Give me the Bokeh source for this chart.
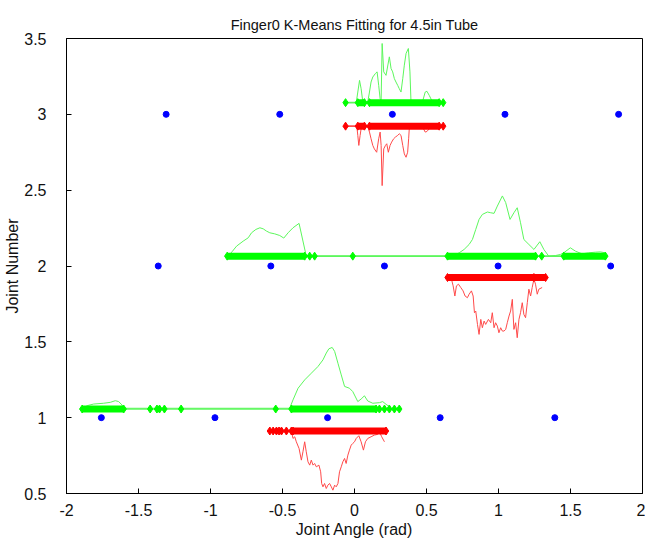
from bokeh.plotting import figure
from bokeh.models import Range1d, FixedTicker
from bokeh.embed import file_html
from bokeh.resources import INLINE

# ---------------- data ----------------
x_ticks = [-2, -1.5, -1, -0.5, 0, 0.5, 1, 1.5, 2]
x_tick_labels = ["-2", "-1.5", "-1", "-0.5", "0", "0.5", "1", "1.5", "2"]
y_ticks = [0.5, 1, 1.5, 2, 2.5, 3, 3.5]
y_tick_labels = ["0.5", "1", "1.5", "2", "2.5", "3", "3.5"]

title_text = "Finger0 K-Means Fitting for 4.5in Tube"
x_label = "Joint Angle (rad)"
y_label = "Joint Number"

# K-means centres per joint
centers_j1 = [-1.758, -0.969, -0.187, 0.595, 1.391]
centers_j2 = [-1.363, -0.581, 0.208, 0.997, 1.779]
centers_j3 = [-1.308, -0.519, 0.263, 1.045, 1.834]

# levels of the data strips
green_level = {1: 1.057, 2: 2.065, 3: 3.077}
red_level = {1: 0.912, 2: 1.924, 3: 2.922}

# dense runs of samples (start, end) and isolated samples
g1_run_start = [-1.891, -0.438]
g1_run_end = [-1.603, 0.150]
g1_points = [-1.419, -1.372, -1.354, -1.320, -1.204, -0.547, 0.173, 0.208, 0.242, 0.277, 0.311]
r1_run_start = [-0.427]
r1_run_end = [0.219]
r1_points = [-0.588, -0.565, -0.542, -0.524, -0.507, -0.473, -0.438]

g2_run_start = [-0.884, 0.646, 1.453]
g2_run_end = [-0.346, 1.257, 1.742]
g2_points = [-0.311, -0.277, -0.012, 1.300]
r2_run_start = [0.646]
r2_run_end = [1.327]
r2_points = [1.246]

g3_run_start = [0.023, 0.104]
g3_run_end = [0.069, 0.588]
g3_points = [-0.062, 0.616]
r3_run_start = [0.023, 0.104]
r3_run_end = [0.069, 0.588]
r3_points = [-0.062, 0.616]

# histogram outlines
g1_hist_x = [-1.891, -1.857, -1.811, -1.742, -1.696, -1.661, -1.638, -1.615, -1.603,
             -0.450, -0.427, -0.392, -0.346, -0.300, -0.254, -0.219, -0.196, -0.178, -0.155,
             -0.138, -0.115, -0.092, -0.069, -0.035, -0.012, 0.023, 0.046, 0.069, 0.092,
             0.127, 0.173, 0.196, 0.219, 0.242]
g1_hist_y = [1.057, 1.079, 1.090, 1.095, 1.101, 1.112, 1.106, 1.084, 1.062,
             1.062, 1.117, 1.194, 1.249, 1.293, 1.337, 1.381, 1.426, 1.454, 1.463,
             1.437, 1.359, 1.282, 1.206, 1.194, 1.172, 1.106, 1.123, 1.144, 1.110,
             1.095, 1.099, 1.106, 1.088, 1.073]
r1_hist_x = [-0.438, -0.427, -0.415, -0.404, -0.385, -0.369, -0.358, -0.346, -0.335, -0.323,
             -0.311, -0.300, -0.288, -0.277, -0.265, -0.247, -0.235, -0.228, -0.219, -0.208,
             -0.196, -0.185, -0.173, -0.161, -0.150, -0.138, -0.127, -0.115, -0.104, -0.092,
             -0.081, -0.069, -0.058, -0.046, -0.035, -0.023, -0.012, 0.000, 0.012, 0.030,
             0.046, 0.062, 0.076, 0.092, 0.115, 0.138, 0.161, 0.173, 0.189, 0.208]
r1_hist_y = [0.912, 0.863, 0.874, 0.841, 0.797, 0.720, 0.775, 0.841, 0.775, 0.709,
             0.687, 0.720, 0.687, 0.698, 0.676, 0.687, 0.643, 0.566, 0.544, 0.566,
             0.533, 0.555, 0.566, 0.544, 0.522, 0.555, 0.544, 0.566, 0.643, 0.676,
             0.709, 0.731, 0.698, 0.753, 0.786, 0.819, 0.830, 0.841, 0.863, 0.881,
             0.841, 0.786, 0.841, 0.863, 0.874, 0.885, 0.890, 0.907, 0.874, 0.841]

g2_hist_x = [-0.877, -0.847, -0.819, -0.773, -0.738, -0.715, -0.685, -0.657, -0.634, -0.611,
             -0.588, -0.554, -0.519, -0.491, -0.461, -0.427, -0.385, -0.339, -0.330,
             0.680, 0.727, 0.761, 0.796, 0.819, 0.842, 0.865, 0.888, 0.923, 0.946,
             0.969, 0.992, 1.027, 1.050, 1.080, 1.107, 1.130, 1.153, 1.176, 1.211,
             1.246, 1.287, 1.315, 1.349, 1.396, 1.430, 1.453, 1.499, 1.534, 1.580,
             1.626, 1.672, 1.707, 1.742]
g2_hist_y = [2.065, 2.098, 2.131, 2.164, 2.186, 2.219, 2.241, 2.252, 2.245, 2.230,
             2.219, 2.212, 2.201, 2.184, 2.219, 2.252, 2.281, 2.083, 2.065,
             2.065, 2.087, 2.109, 2.142, 2.175, 2.241, 2.307, 2.340, 2.356, 2.351,
             2.347, 2.395, 2.462, 2.418, 2.307, 2.351, 2.384, 2.285, 2.175, 2.142,
             2.109, 2.160, 2.109, 2.065, 2.069, 2.076, 2.087, 2.120, 2.098, 2.080,
             2.087, 2.091, 2.093, 2.087]
r2_hist_x = [0.676, 0.685, 0.697, 0.708, 0.722, 0.738, 0.754, 0.768, 0.784, 0.796,
             0.812, 0.824, 0.833, 0.842, 0.854, 0.865, 0.877, 0.888, 0.900, 0.911,
             0.930, 0.946, 0.957, 0.969, 0.980, 0.992, 1.003, 1.015, 1.027, 1.038,
             1.050, 1.061, 1.073, 1.084, 1.096, 1.107, 1.119, 1.130, 1.142, 1.153,
             1.165, 1.176, 1.188, 1.200, 1.211, 1.223, 1.234, 1.246, 1.257, 1.269,
             1.280, 1.303]
r2_hist_y = [1.903, 1.869, 1.802, 1.869, 1.880, 1.858, 1.836, 1.802, 1.791, 1.814,
             1.836, 1.802, 1.692, 1.703, 1.615, 1.549, 1.648, 1.593, 1.637, 1.615,
             1.648, 1.626, 1.692, 1.593, 1.626, 1.604, 1.560, 1.593, 1.571, 1.571,
             1.582, 1.626, 1.670, 1.703, 1.780, 1.582, 1.626, 1.527, 1.648, 1.692,
             1.758, 1.681, 1.659, 1.758, 1.847, 1.802, 1.858, 1.913, 1.880, 1.814,
             1.847, 1.858]

g3_hist_x = [0.012, 0.023, 0.035, 0.046, 0.058, 0.092, 0.104, 0.115, 0.127, 0.145,
             0.157, 0.168, 0.178, 0.185, 0.192, 0.203, 0.219, 0.242, 0.254, 0.265,
             0.277, 0.288, 0.300, 0.311, 0.323, 0.335, 0.346, 0.358, 0.374, 0.385,
             0.392, 0.404, 0.473, 0.491, 0.503, 0.519, 0.542, 0.588]
g3_hist_y = [3.077, 3.147, 3.224, 3.169, 3.081, 3.081, 3.147, 3.213, 3.246, 3.269,
             3.280, 3.191, 3.103, 3.092, 3.467, 3.280, 3.257, 3.379, 3.302, 3.280,
             3.235, 3.213, 3.191, 3.169, 3.147, 3.235, 3.324, 3.401, 3.434, 3.280,
             3.092, 3.081, 3.086, 3.147, 3.152, 3.125, 3.081, 3.077]
r3_hist_x = [0.016, 0.023, 0.030, 0.039, 0.046, 0.058, 0.092, 0.104, 0.115, 0.127,
             0.138, 0.154, 0.168, 0.178, 0.185, 0.192, 0.203, 0.215, 0.224, 0.235,
             0.247, 0.258, 0.272, 0.284, 0.300, 0.311, 0.323, 0.335, 0.346, 0.358,
             0.369, 0.376, 0.381, 0.392, 0.473, 0.491, 0.503, 0.519, 0.542]
r3_hist_y = [2.922, 2.861, 2.795, 2.861, 2.905, 2.916, 2.922, 2.883, 2.839, 2.795,
             2.772, 2.750, 2.839, 2.883, 2.795, 2.530, 2.772, 2.795, 2.806, 2.750,
             2.795, 2.817, 2.839, 2.850, 2.861, 2.872, 2.861, 2.795, 2.739, 2.717,
             2.750, 2.839, 2.916, 2.922, 2.916, 2.883, 2.887, 2.905, 2.916]

# ---------------- styles ----------------
FONT = "Liberation Sans"
GREEN = "#00ff00"
GREEN_THIN = "#5cf75c"
RED = "#ff0000"
RED_THIN = "#ff4a4a"
BLUE = "#0000ff"

p = figure(width=645, height=540, output_backend="svg", toolbar_location=None,
           x_range=Range1d(-2, 2), y_range=Range1d(0.5, 3.5),
           min_border_left=66, min_border_right=3, min_border_top=38, min_border_bottom=46)

p.title.text = title_text
p.title.align = "center"
p.title.text_font = FONT
p.title.text_font_size = "14.5px"
p.title.text_font_style = "normal"
p.title.text_color = "#111111"
p.title.standoff = 11

p.xgrid.visible = False
p.ygrid.visible = False
p.outline_line_color = "black"
p.outline_line_width = 1
p.outline_line_alpha = 1

for ax, ticks, labels in ((p.xaxis[0], x_ticks, x_tick_labels), (p.yaxis[0], y_ticks, y_tick_labels)):
    ax.ticker = FixedTicker(ticks=ticks)
    ax.major_label_overrides = {t: l for t, l in zip(ticks, labels)}
    ax.major_tick_in = 5
    ax.major_tick_out = 0
    ax.minor_tick_line_color = None
    ax.major_label_text_font = FONT
    ax.major_label_text_font_size = "16px"
    ax.major_label_text_color = "#111111"
    ax.axis_label_text_font = FONT
    ax.axis_label_text_font_size = "16px"
    ax.axis_label_text_font_style = "normal"
    ax.axis_label_text_color = "#111111"
    ax.axis_line_color = "black"

p.xaxis.axis_label = x_label
p.yaxis.axis_label = y_label
p.xaxis.major_label_standoff = 10
p.xaxis.axis_label_standoff = 2
p.yaxis.major_label_standoff = 20
p.yaxis.axis_label_standoff = 0

strips = [
    (1, green_level[1], g1_run_start, g1_run_end, g1_points, g1_hist_x, g1_hist_y, GREEN, GREEN_THIN),
    (1, red_level[1], r1_run_start, r1_run_end, r1_points, r1_hist_x, r1_hist_y, RED, RED_THIN),
    (2, green_level[2], g2_run_start, g2_run_end, g2_points, g2_hist_x, g2_hist_y, GREEN, GREEN_THIN),
    (2, red_level[2], r2_run_start, r2_run_end, r2_points, r2_hist_x, r2_hist_y, RED, RED_THIN),
    (3, green_level[3], g3_run_start, g3_run_end, g3_points, g3_hist_x, g3_hist_y, GREEN, GREEN_THIN),
    (3, red_level[3], r3_run_start, r3_run_end, r3_points, r3_hist_x, r3_hist_y, RED, RED_THIN),
]

for j, lvl, rs, re, pts, hx, hy, col, thin in strips:
    allx = rs + re + pts
    lo, hi = min(allx), max(allx)
    # thin line joining all samples
    p.line([lo, hi], [lvl, lvl], line_color=thin, line_width=1.6)
    # histogram outline
    p.line(hx, hy, line_color=thin, line_width=1.0)
    # dense runs
    p.segment(x0=rs, y0=[lvl] * len(rs), x1=re, y1=[lvl] * len(re),
              line_color=col, line_width=7)
    ends = rs + re + pts
    p.scatter(ends, [lvl] * len(ends), marker="diamond", size=8,
              fill_color=col, line_color=col)

for j, cs in ((1, centers_j1), (2, centers_j2), (3, centers_j3)):
    p.scatter(cs, [j] * len(cs), marker="circle", size=6, fill_color=BLUE, line_color=BLUE)

open("out.html", "w").write(file_html(p, INLINE))
